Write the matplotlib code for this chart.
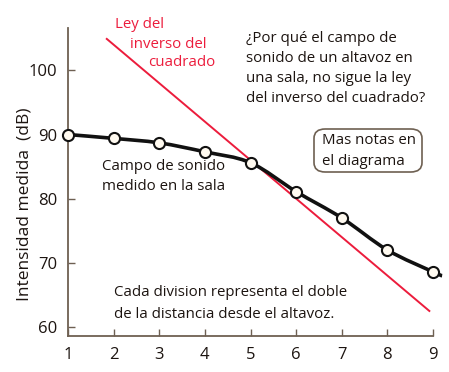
import numpy as np
import matplotlib.pyplot as plt
from matplotlib.path import Path
from matplotlib.patches import PathPatch, FancyBboxPatch

plt.rcParams['font.family'] = ['Open Sans', 'DejaVu Sans']

# datos
divisiones = [1, 2, 3, 4, 5, 6, 7, 8, 9]
medido_db = [90.0, 89.4, 88.7, 87.3, 85.6, 81.1, 77.0, 72.0, 68.6]
# cola de la curva despues del ultimo punto
cola_x, cola_y = 9.2, 68.0
# ley del inverso del cuadrado: -6 dB por division
ley_x = [1.85, 8.92]
ley_y = [104.9, 62.5]
yticks = [60, 70, 80, 90, 100]

W, H = 449, 372
fig = plt.figure(figsize=(W / 100, H / 100), dpi=100)
ax = fig.add_axes([68 / W, 1 - 336 / H, (433 - 68) / W, (336 - 28) / H])

SPINE = '#6e6052'
TXT = '#1c1410'
RED = '#ec1c3c'

ax.set_xlim(1, 9)
ax.set_ylim(58.6, 106.6)
ax.set_xticks(divisiones)
ax.set_yticks(yticks)
ax.tick_params(direction='in', length=5, width=1, color=SPINE, labelsize=12,
               labelcolor=TXT, pad=8)
for s in ['top', 'right']:
    ax.spines[s].set_visible(False)
for s in ['left', 'bottom']:
    ax.spines[s].set_color(SPINE)
    ax.spines[s].set_linewidth(1.3)
ax.set_ylabel('Intensidad medida  (dB)', fontsize=12.5, color=TXT)
ax.yaxis.set_label_coords(-0.098, (336 - 204) / 308)

# linea roja
ax.plot(ley_x, ley_y, color=RED, lw=1.4, clip_on=False, zorder=3)

# curva suave (Catmull-Rom -> Bezier) a traves de los puntos medidos
px = np.array(divisiones + [cola_x], float)
py = np.array(medido_db + [cola_y], float)
pts = np.column_stack([px, py])
verts = [pts[0]]
codes = [Path.MOVETO]
for i in range(len(pts) - 1):
    p0 = pts[i - 1] if i > 0 else pts[i]
    p1, p2 = pts[i], pts[i + 1]
    p3 = pts[i + 2] if i + 2 < len(pts) else pts[i + 1]
    c1 = p1 + (p2 - p0) / 6
    c2 = p2 - (p3 - p1) / 6
    verts += [c1, c2, p2]
    codes += [Path.CURVE4] * 3
curva = PathPatch(Path(verts, codes), fill=False, edgecolor='#111111', lw=2.6,
                  transform=ax.transData, clip_on=False, zorder=4, capstyle='butt')
ax.add_patch(curva)
ax.plot(divisiones, medido_db, 'o', ms=8, mfc='#fffaf0', mec='#111111', mew=1.5,
        clip_on=False, zorder=5)


def px2fig(x, y):
    return x / W, 1 - y / H


def texto(x, y, s, **kw):
    fx, fy = px2fig(x, y)
    fig.text(fx, fy, s, fontsize=10.8, va='center', ha='left', **kw)


# etiquetas rojas
for x, y, s in [(115, 24, 'Ley del'), (130, 44, 'inverso del'), (148, 63, 'cuadrado')]:
    texto(x, y, s, color=RED)

# pregunta
for i, s in enumerate(['¿Por qué el campo de', 'sonido de un altavoz en',
                       'una sala, no sigue la ley', 'del inverso del cuadrado?']):
    texto(246, 38 + i * 20.3, s, color=TXT)

texto(102, 166, 'Campo de sonido', color=TXT)
texto(102, 186, 'medido en la sala', color=TXT)

texto(114, 293, 'Cada division representa el doble', color=TXT)
texto(114, 315, 'de la distancia desde el altavoz.', color=TXT)

# recuadro
bx0, by0 = px2fig(314, 172)
bx1, by1 = px2fig(422, 129)
caja = FancyBboxPatch((bx0, by0), bx1 - bx0, by1 - by0,
                      boxstyle='round,pad=0,rounding_size=0.025',
                      transform=fig.transFigure, fill=False, edgecolor=SPINE, lw=1.2)
fig.patches.append(caja)
texto(322, 141, 'Mas notas en', color=TXT)
texto(322, 161, 'el diagrama', color=TXT)

fig.savefig('out.png', dpi=100)
